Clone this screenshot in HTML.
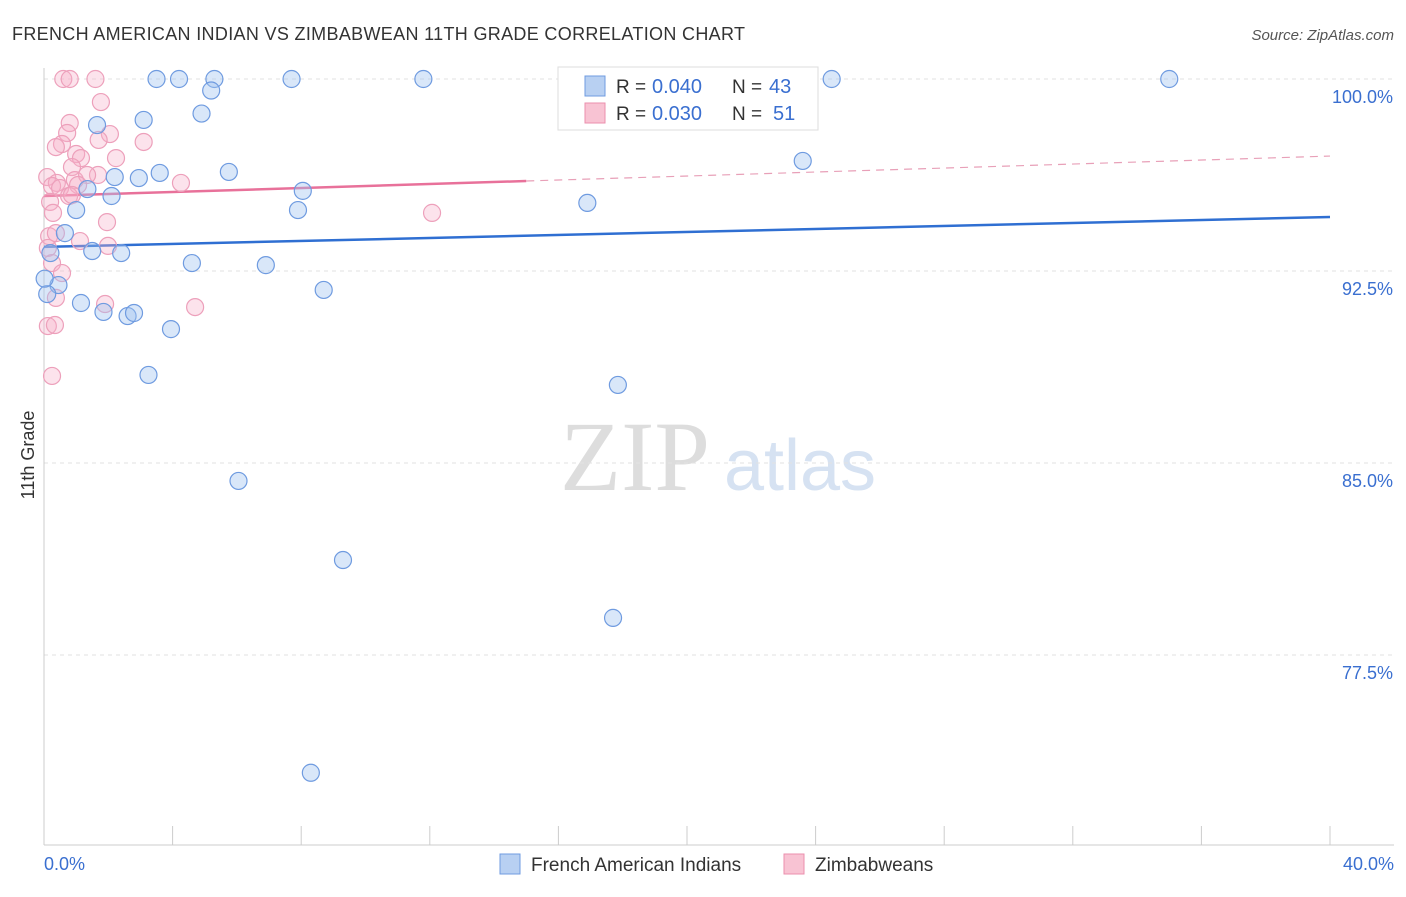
<!DOCTYPE html>
<html><head><meta charset="utf-8"><style>
body{margin:0;background:#fff;font-family:"Liberation Sans",sans-serif}
svg text{font-family:"Liberation Sans",sans-serif}
</style></head><body>
<svg id="c" width="1406" height="892">
<text x="12" y="40" font-size="18" fill="#333" textLength="733">FRENCH AMERICAN INDIAN VS ZIMBABWEAN 11TH GRADE CORRELATION CHART</text>
<text x="1394" y="40" font-size="15" fill="#555" font-style="italic" text-anchor="end">Source: ZipAtlas.com</text>
<text x="34" y="455" font-size="18" fill="#333" transform="rotate(-90 34 455)" text-anchor="middle">11th Grade</text>
<g><text x="635" y="490" font-size="100" fill="#ddd" style="font-family:'Liberation Serif',serif" text-anchor="middle">ZIP</text><text x="800" y="490" font-size="72" fill="#d6e2f2" text-anchor="middle">atlas</text></g>
<g id="grid"></g><g id="axes"></g><g id="trend"></g><g id="pts"></g>
<g>
<rect x="558" y="67" width="260" height="63" fill="#fff" stroke="#ddd"/>
<rect x="585" y="76" width="20" height="20" fill="#b8d0f2" stroke="#6f9be0"/>
<rect x="585" y="103" width="20" height="20" fill="#f8c3d3" stroke="#eb8fae"/>
<text x="616" y="93" font-size="19" fill="#333">R =</text><text x="652" y="93" font-size="20" fill="#3a6fd0">0.040</text>
<text x="732" y="93" font-size="19" fill="#333">N =</text><text x="769" y="93" font-size="20" fill="#3a6fd0">43</text>
<text x="616" y="120" font-size="19" fill="#333">R =</text><text x="652" y="120" font-size="20" fill="#3a6fd0">0.030</text>
<text x="732" y="120" font-size="19" fill="#333">N =</text><text x="773" y="120" font-size="20" fill="#3a6fd0">51</text>
</g>
<g>
<rect x="500" y="854" width="20" height="20" fill="#b8d0f2" stroke="#6f9be0"/>
<text x="531" y="871" font-size="19" fill="#333">French American Indians</text>
<rect x="784" y="854" width="20" height="20" fill="#f8c3d3" stroke="#eb8fae"/>
<text x="815" y="871" font-size="19" fill="#333">Zimbabweans</text>
</g>
</svg>
<script>
const yTicks=[100,92.5,85,77.5];
const yTickLabels=["100.0%","92.5%","85.0%","77.5%"];
const xTickLabels=["0.0%","40.0%"];
const blueX=[3.5,4.2,5.3,7.7,11.8,24.5,35,5.2,4.9,3.1,1.65,23.6,5.75,3.6,2.2,2.95,1.35,8.05,2.1,16.9,7.9,1.0,0.65,1.5,2.4,0.2,4.6,6.9,0.45,8.7,1.15,1.85,2.6,2.8,3.95,3.25,17.85,6.05,9.3,17.7,8.3,0.1,0.02];
const blueY=[100,100,100,100,100,100,100,99.55,98.65,98.4,98.2,96.8,96.37,96.33,96.17,96.13,95.7,95.63,95.43,95.16,94.88,94.88,93.98,93.28,93.2,93.2,92.81,92.73,91.95,91.76,91.25,90.9,90.74,90.86,90.23,88.44,88.05,84.3,81.21,78.95,72.9,91.6,92.2];
const pinkX=[0.6,0.8,1.6,1.77,0.8,0.72,2.05,1.7,0.56,0.37,3.1,1.0,1.15,2.24,0.87,0.1,0.4,0.96,1.68,1.34,4.26,0.25,0.5,1.06,0.78,0.19,0.28,1.96,12.07,0.16,0.37,1.12,1.99,0.12,0.25,0.56,0.37,1.9,4.7,0.12,0.34,0.25,0.87];
const pinkY=[100,100,100,99.1,98.28,97.89,97.85,97.62,97.46,97.34,97.54,97.07,96.91,96.91,96.56,96.17,95.94,96.05,96.25,96.25,95.94,95.82,95.74,95.86,95.43,95.2,94.77,94.41,94.77,93.86,93.98,93.67,93.48,93.4,92.81,92.42,91.45,91.21,91.09,90.35,90.39,88.4,95.47];
const blueTrend=[93.44,94.61];
const pinkTrend=[95.43,96.99];
const ns="http://www.w3.org/2000/svg";
const X=v=>44+v/40*1286, Y=v=>79+(100-v)*25.6;
function mk(t,a,p){const e=document.createElementNS(ns,t);for(const k in a)e.setAttribute(k,a[k]);p.appendChild(e);return e;}
const grid=document.getElementById('grid'),axes=document.getElementById('axes');
yTicks.forEach((v,i)=>{const l=mk('line',{x1:44,x2:1394,y1:Y(v),y2:Y(v),stroke:'#e2e2e2','stroke-dasharray':'4,4'},grid);


const t=mk('text',{x:1393,y:Y(v)+24,'font-size':18,fill:'#3a6fd0','text-anchor':'end'},axes);t.textContent=yTickLabels[i];

});
const ax=mk('line',{x1:44,x2:1394,y1:845,y2:845,stroke:'#ccc'},axes);


const ay=mk('line',{x1:44,x2:44,y1:68,y2:845,stroke:'#ccc'},axes);


for(let i=0;i<=10;i++){const t=mk('line',{x1:X(i*4),x2:X(i*4),y1:826,y2:845,stroke:'#ccc'},axes);

}
[[0,'start',44],[40,'end',1394]].forEach((d,i)=>{const t=mk('text',{x:d[2],y:870,'font-size':18,fill:'#3a6fd0','text-anchor':d[1]},axes);t.textContent=xTickLabels[i];

});
const tr=document.getElementById('trend');
const pl=v=>pinkTrend[0]+(pinkTrend[1]-pinkTrend[0])*v/40;
let a=mk('line',{x1:X(0),y1:Y(blueTrend[0]),x2:X(40),y2:Y(blueTrend[1]),stroke:'#2f6fd2','stroke-width':2.5},tr);


a=mk('line',{x1:X(0),y1:Y(pl(0)),x2:X(15),y2:Y(pl(15)),stroke:'#e8719a','stroke-width':2.5},tr);


a=mk('line',{x1:X(15),y1:Y(pl(15)),x2:X(40),y2:Y(pl(40)),stroke:'#e8a0b8','stroke-width':1.2,'stroke-dasharray':'8,6'},tr);


const pts=document.getElementById('pts');
pinkX.forEach((x,i)=>{const c=mk('circle',{cx:X(x),cy:Y(pinkY[i]),r:8.5,fill:'rgba(245,175,200,0.35)',stroke:'#eda0bb','stroke-width':1.2},pts);

});
blueX.forEach((x,i)=>{const c=mk('circle',{cx:X(x),cy:Y(blueY[i]),r:8.5,fill:'rgba(160,195,240,0.4)',stroke:'#6f9be0','stroke-width':1.2},pts);

});
</script>
</body></html>
